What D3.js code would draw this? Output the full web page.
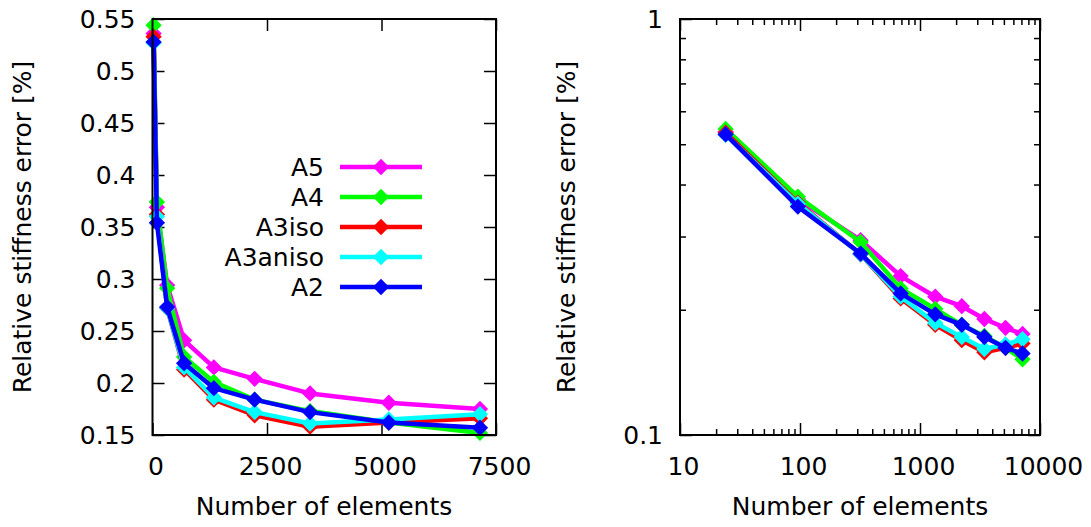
<!DOCTYPE html>
<html>
<head>
<meta charset="utf-8">
<script src="https://cdn.jsdelivr.net/npm/d3@7"></script>
<style>
  body { margin: 0; background: #fff; }
  text { font-family: "DejaVu Sans", sans-serif; }
</style>
</head>
<body>
<div id="chart-area"></div>
<script>
// Datos
var elements = [24, 96, 320, 690, 1340, 2230, 3440, 5160, 7150];
var seriesNames = ["A5", "A4", "A3iso", "A3aniso", "A2"];
var seriesColors = ["#ff00ff", "#00ff00", "#ff0000", "#00ffff", "#0000ff"];
var A5 = [0.536, 0.369, 0.294, 0.241, 0.215, 0.204, 0.190, 0.181, 0.175];
var A4 = [0.544, 0.374, 0.291, 0.225, 0.201, 0.184, 0.173, 0.162, 0.152];
var A3iso = [0.533, 0.362, 0.272, 0.213, 0.184, 0.169, 0.158, 0.162, 0.166];
var A3aniso = [0.527, 0.360, 0.272, 0.215, 0.186, 0.172, 0.161, 0.165, 0.170];
var A2 = [0.528, 0.354, 0.273, 0.219, 0.195, 0.184, 0.172, 0.162, 0.157];
var seriesValues = [A5, A4, A3iso, A3aniso, A2];

var leftXTicks = [0, 2500, 5000, 7500];
var leftYTicks = [0.15, 0.2, 0.25, 0.3, 0.35, 0.4, 0.45, 0.5, 0.55];
var rightXTicks = [10, 100, 1000, 10000];
var rightYTicks = [0.1, 1];

var W = 1091, H = 527;
var svg = d3.select("#chart-area").append("svg")
    .attr("width", W)
    .attr("height", H);

var plotTop = 19, plotBottom = 435;
var fontSize = "25px";

// Escalas
var xLin = d3.scaleLinear().domain([0, 7500]).range([152.5, 496]);
var yLin = d3.scaleLinear().domain([0.15, 0.55]).range([plotBottom, plotTop]);
var xLog = d3.scaleLog().domain([10, 10000]).range([680, 1040]);
var yLog = d3.scaleLog().domain([0.1, 1]).range([plotBottom, plotTop]);

function styleAxis(g) {
    g.select(".domain").remove();
    g.selectAll("line").attr("stroke", "#000").attr("stroke-width", 1.5);
    g.selectAll("text").attr("font-size", fontSize).attr("fill", "#000")
        .attr("font-family", "DejaVu Sans, sans-serif");
}

// Minor ticks para la escala logarítmica
function minorTicks(domain) {
    var out = [];
    for (var d = domain[0]; d < domain[1] * 0.999; d *= 10) {
        for (var k = 2; k <= 9; k++) out.push(d * k);
    }
    return out;
}

function drawFrame(x0, x1) {
    svg.append("rect")
        .attr("x", x0)
        .attr("y", plotTop)
        .attr("width", x1 - x0)
        .attr("height", plotBottom - plotTop)
        .attr("fill", "none")
        .attr("stroke", "#000")
        .attr("stroke-width", 2);
}

// ---------- Gráfico izquierdo (lineal) ----------
svg.append("g").attr("transform", "translate(0," + plotBottom + ")")
    .call(d3.axisBottom(xLin).tickValues(leftXTicks).tickSize(-12).tickPadding(22).tickFormat(d3.format("d")))
    .call(styleAxis)
    .selectAll("text").attr("dx", 3);
svg.append("g").attr("transform", "translate(0," + plotTop + ")")
    .call(d3.axisTop(xLin).tickValues(leftXTicks).tickSize(-12).tickFormat(""))
    .call(styleAxis);
svg.append("g").attr("transform", "translate(152.5,0)")
    .call(d3.axisLeft(yLin).tickValues(leftYTicks).tickSize(-12).tickPadding(17).tickFormat(d => String(+d.toFixed(2))))
    .call(styleAxis);
svg.append("g").attr("transform", "translate(496,0)")
    .call(d3.axisRight(yLin).tickValues(leftYTicks).tickSize(-12).tickFormat(""))
    .call(styleAxis);

// ---------- Gráfico derecho (log-log) ----------
svg.append("g").attr("transform", "translate(0," + plotBottom + ")")
    .call(d3.axisBottom(xLog).tickValues(rightXTicks).tickSize(-12).tickPadding(22).tickFormat(d3.format("d")))
    .call(styleAxis)
    .selectAll("text").attr("dx", 3);
svg.append("g").attr("transform", "translate(0," + plotBottom + ")")
    .call(d3.axisBottom(xLog).tickValues(minorTicks([10, 10000])).tickSize(-6).tickFormat(""))
    .call(styleAxis);
svg.append("g").attr("transform", "translate(0," + plotTop + ")")
    .call(d3.axisTop(xLog).tickValues(rightXTicks).tickSize(-12).tickFormat(""))
    .call(styleAxis);
svg.append("g").attr("transform", "translate(0," + plotTop + ")")
    .call(d3.axisTop(xLog).tickValues(minorTicks([10, 10000])).tickSize(-6).tickFormat(""))
    .call(styleAxis);
svg.append("g").attr("transform", "translate(680,0)")
    .call(d3.axisLeft(yLog).tickValues(rightYTicks).tickSize(-12).tickPadding(17).tickFormat(d => String(d)))
    .call(styleAxis);
svg.append("g").attr("transform", "translate(680,0)")
    .call(d3.axisLeft(yLog).tickValues(minorTicks([0.1, 1])).tickSize(-6).tickFormat(""))
    .call(styleAxis);
svg.append("g").attr("transform", "translate(1040,0)")
    .call(d3.axisRight(yLog).tickValues(rightYTicks).tickSize(-12).tickFormat(""))
    .call(styleAxis);
svg.append("g").attr("transform", "translate(1040,0)")
    .call(d3.axisRight(yLog).tickValues(minorTicks([0.1, 1])).tickSize(-6).tickFormat(""))
    .call(styleAxis);

// Series
var diamond = d3.symbol().type(d3.symbolDiamond2).size(170);

function drawSeries(xs, ys) {
    seriesValues.forEach(function(vals, s) {
        var pts = vals.map((v, i) => [xs(elements[i]), ys(v)]);
        svg.append("path")
            .attr("d", d3.line()(pts))
            .attr("fill", "none")
            .attr("stroke", seriesColors[s])
            .attr("stroke-width", 4.5)
            .attr("stroke-linejoin", "round");
        svg.selectAll(null)
            .data(pts)
            .enter()
            .append("path")
            .attr("transform", d => "translate(" + d[0] + "," + d[1] + ")")
            .attr("d", diamond)
            .attr("fill", seriesColors[s]);
    });
}

drawSeries(xLin, yLin);
drawSeries(xLog, yLog);

drawFrame(152.5, 496);
drawFrame(680, 1040);

// Leyenda
seriesNames.forEach(function(name, i) {
    var y = 167 + i * 30;
    svg.append("text")
        .attr("x", 324)
        .attr("y", y)
        .attr("dy", "0.36em")
        .attr("text-anchor", "end")
        .attr("font-size", fontSize)
        .attr("fill", "#000")
        .text(name);
    svg.append("line")
        .attr("x1", 340)
        .attr("x2", 422)
        .attr("y1", y)
        .attr("y2", y)
        .attr("stroke", seriesColors[i])
        .attr("stroke-width", 4.5);
    svg.append("path")
        .attr("transform", "translate(381," + y + ")")
        .attr("d", diamond)
        .attr("fill", seriesColors[i]);
});

// Títulos de los ejes
svg.append("text")
    .attr("x", 324)
    .attr("y", 515)
    .attr("text-anchor", "middle")
    .attr("font-size", fontSize)
    .text("Number of elements");
svg.append("text")
    .attr("x", 860)
    .attr("y", 515)
    .attr("text-anchor", "middle")
    .attr("font-size", fontSize)
    .text("Number of elements");
svg.append("text")
    .attr("transform", "translate(31,227) rotate(-90)")
    .attr("text-anchor", "middle")
    .attr("font-size", fontSize)
    .text("Relative stiffness error [%]");
svg.append("text")
    .attr("transform", "translate(575,227) rotate(-90)")
    .attr("text-anchor", "middle")
    .attr("font-size", fontSize)
    .text("Relative stiffness error [%]");
</script>
</body>
</html>
